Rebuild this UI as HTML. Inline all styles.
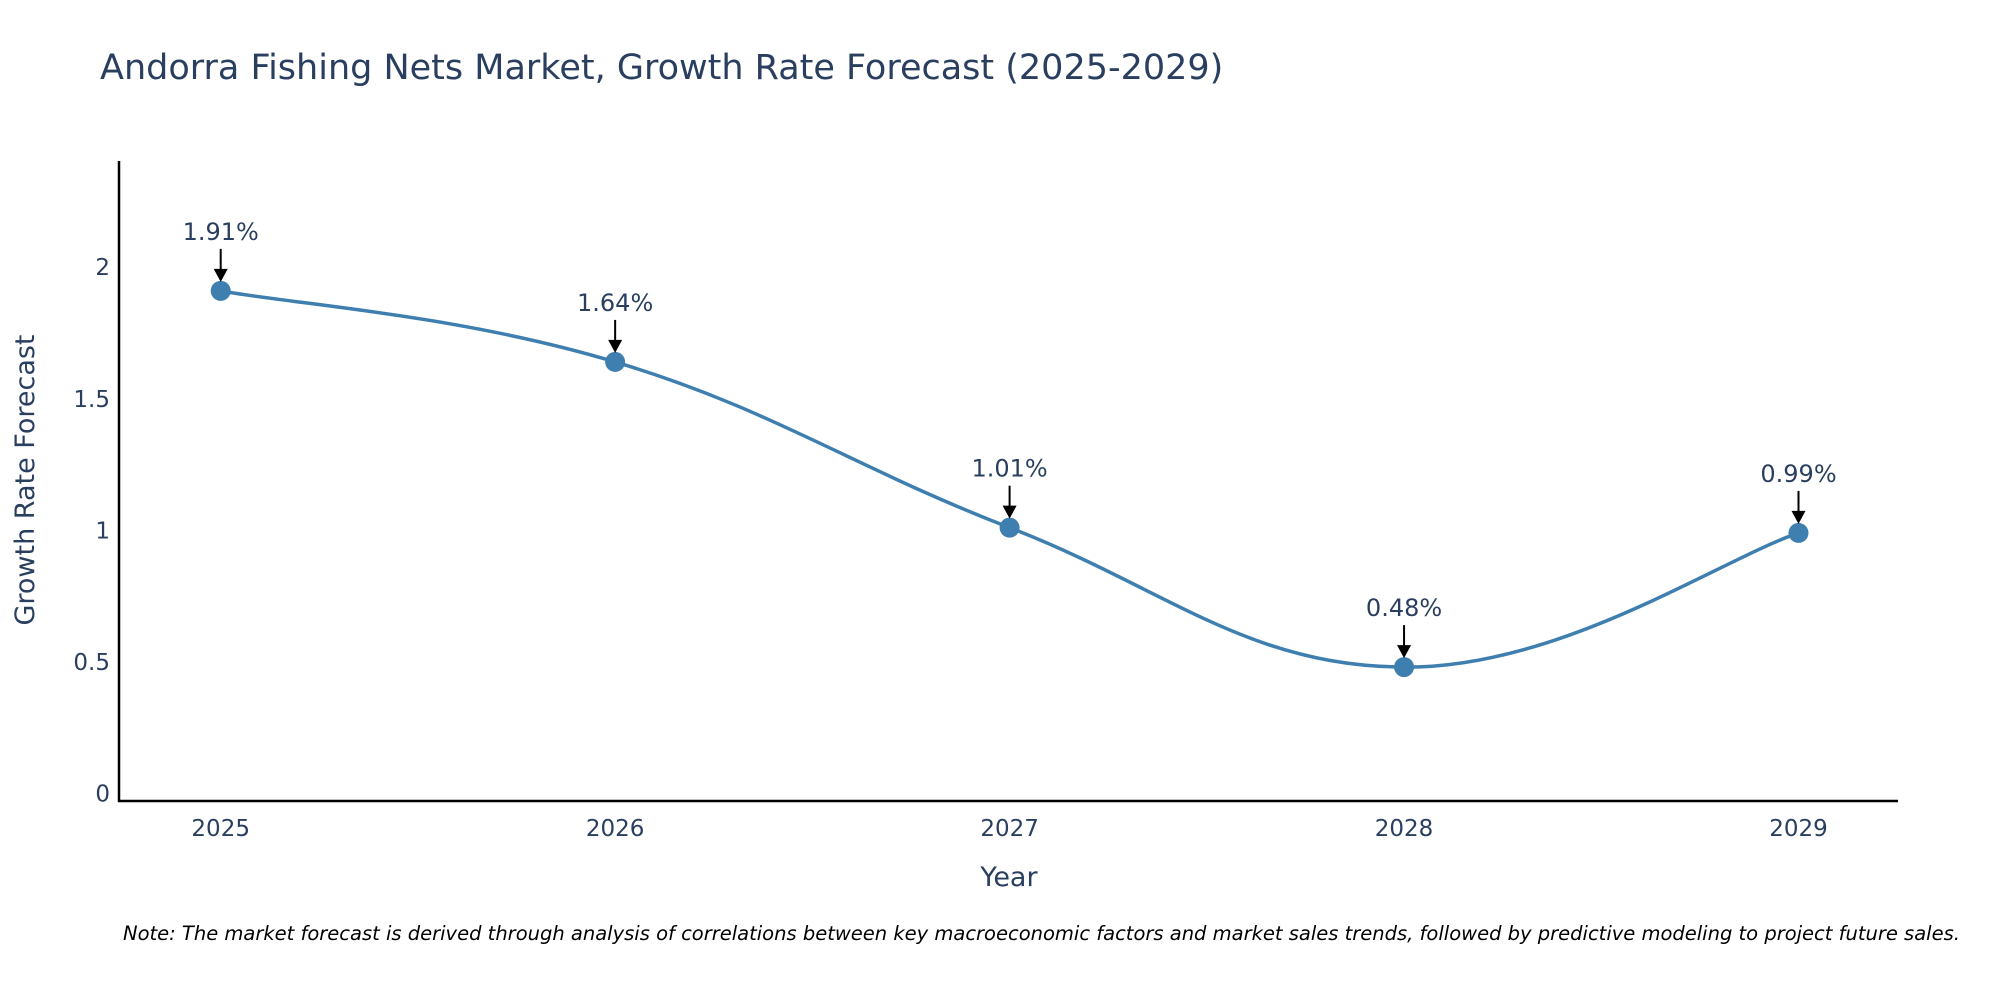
<!DOCTYPE html>
<html><head><meta charset="utf-8"><style>
html,body{margin:0;padding:0;background:#fff;}
svg{display:block;font-family:"DejaVu Sans","Liberation Sans",sans-serif;}
</style></head><body>
<svg id="chart" width="2000" height="1000" viewBox="0 0 2000 1000">
<text x="100" y="79" font-size="35" fill="#2a3f5f">Andorra Fishing Nets Market, Growth Rate Forecast (2025-2029)</text>
<g id="yticks"></g>
<g id="xticks"></g>
<line x1="119" y1="161" x2="119" y2="802" stroke="#000" stroke-width="2.5"/>
<line x1="118" y1="801" x2="1898" y2="801" stroke="#000" stroke-width="2.5"/>
<path id="line" fill="none" stroke="#3f7fb0" stroke-width="3.5"/>
<g id="marks"></g>
<g id="ann"></g>
<text x="1009" y="886" font-size="27" fill="#2a3f5f" text-anchor="middle">Year</text>
<text transform="translate(34,480) rotate(-90)" font-size="27" fill="#2a3f5f" text-anchor="middle">Growth Rate Forecast</text>
<text x="123" y="940" font-size="19.5" font-style="italic" fill="#000">Note: The market forecast is derived through analysis of correlations between key macroeconomic factors and market sales trends, followed by predictive modeling to project future sales.</text>
</svg>
<script>
const years = [2025, 2026, 2027, 2028, 2029];
const values = [1.91, 1.64, 1.01, 0.48, 0.99];
const valueLabels = ["1.91%", "1.64%", "1.01%", "0.48%", "0.99%"];
const yTicks = [0, 0.5, 1, 1.5, 2];
const yTickLabels = ["0", "0.5", "1", "1.5", "2"];

const NS = "http://www.w3.org/2000/svg";
function xs(y){ return 220.7 + (y - 2025) * (1798.5 - 220.7) / 4; }
function ys(v){ return 793.4 - v * 263.1; }
function mk(tag, attrs, parent, text){
  const e = document.createElementNS(NS, tag);
  for (const k in attrs) e.setAttribute(k, attrs[k]);
  if (text !== undefined) e.textContent = text;
  parent.appendChild(e); return e;
}
const yt = document.getElementById('yticks');
yTicks.forEach((t,i)=>{
  const el = mk('text',{x:110,y:ys(t)+8,'font-size':23,fill:'#2a3f5f','text-anchor':'end'},yt,yTickLabels[i]);
  
  
});
const xt = document.getElementById('xticks');
years.forEach(y=>{
  const el = mk('text',{x:xs(y),y:836,'font-size':23,fill:'#2a3f5f','text-anchor':'middle'},xt,String(y));
  
  
});
const pts = years.map((y,i)=>[xs(y), ys(values[i])]);
let d = `M${pts[0][0]},${pts[0][1]}`;
const s = 0.2;
for (let i=0;i<pts.length-1;i++){
  const p0 = pts[Math.max(i-1,0)], p1 = pts[i], p2 = pts[i+1], p3 = pts[Math.min(i+2,pts.length-1)];
  const c1 = [p1[0]+(p2[0]-p0[0])*s, p1[1]+(p2[1]-p0[1])*s];
  const c2 = [p2[0]-(p3[0]-p1[0])*s, p2[1]-(p3[1]-p1[1])*s];
  d += ` C${c1[0]},${c1[1]} ${c2[0]},${c2[1]} ${p2[0]},${p2[1]}`;
}
document.getElementById('line').setAttribute('d', d);
const mg = document.getElementById('marks');
const ag = document.getElementById('ann');
pts.forEach((p,i)=>{
  const c = mk('circle',{cx:p[0],cy:p[1],r:10,fill:'#3f7fb0'},mg);
  
  
  const ln = mk('line',{x1:p[0],y1:p[1]-42,x2:p[0],y2:p[1]-20,stroke:'#000','stroke-width':2},ag);
  
  
  const hd = mk('polygon',{points:`${p[0]-7},${p[1]-22} ${p[0]+7},${p[1]-22} ${p[0]},${p[1]-9}`,fill:'#000'},ag);
  
  
  const tx = mk('text',{x:p[0],y:p[1]-51,'font-size':24,fill:'#2a3f5f','text-anchor':'middle'},ag,valueLabels[i]);
  
  
});
</script>
</body></html>
